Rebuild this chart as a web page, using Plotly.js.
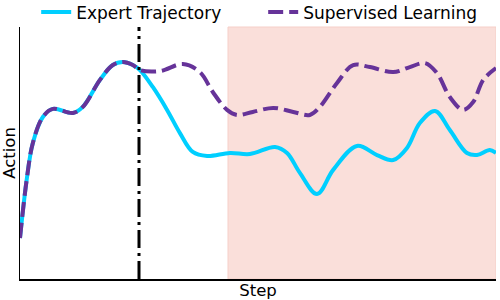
<!DOCTYPE html>
<html>
<head>
<meta charset="utf-8">
<script src="https://cdn.plot.ly/plotly-3.0.1.min.js"></script>
<style>html,body{margin:0;padding:0;background:#fff;}#chart{width:500px;height:300px;}</style>
</head>
<body>
<div id="chart"></div>
<script>
// Expert trajectory (step, action)
const expertSteps = [0, 1.4, 2.7, 4.8, 6.9, 11.1, 13.2, 16.8, 19.5, 21.6, 23.7, 25.2, 27.9, 30.9, 33.6, 36.3, 39.3, 44.1, 48.3, 53.6, 56.1, 58.8, 62.4, 65.8, 70.8, 75.0, 78.4, 81.3, 84.0, 87.2, 90.3, 93.9, 96.0, 98.7, 100];
const expertActions = [0.163, 0.393, 0.540, 0.643, 0.675, 0.659, 0.683, 0.790, 0.849, 0.861, 0.849, 0.829, 0.762, 0.671, 0.579, 0.504, 0.488, 0.500, 0.496, 0.524, 0.500, 0.421, 0.337, 0.433, 0.528, 0.492, 0.472, 0.520, 0.619, 0.667, 0.591, 0.500, 0.492, 0.512, 0.500];

// Supervised learning (step, action)
const supervisedSteps = [0, 1.4, 2.7, 4.8, 6.9, 11.1, 13.2, 16.8, 19.5, 21.6, 23.7, 25.2, 29.4, 34.2, 37.8, 40.5, 43.5, 45.6, 48.9, 53.2, 57.4, 60.9, 63.0, 66.6, 70.0, 73.5, 78.4, 81.9, 85.1, 87.6, 90.3, 93.1, 95.2, 97.3, 100];
const supervisedActions = [0.163, 0.393, 0.540, 0.643, 0.675, 0.659, 0.683, 0.790, 0.849, 0.861, 0.849, 0.829, 0.825, 0.853, 0.821, 0.742, 0.671, 0.651, 0.663, 0.679, 0.663, 0.651, 0.683, 0.778, 0.849, 0.841, 0.821, 0.841, 0.857, 0.817, 0.722, 0.671, 0.702, 0.790, 0.837];

const switchStep = 25.0;
const regionStart = 43.7;
const regionEnd = 100;

const traces = [
  {x: expertSteps, y: expertActions, name: 'Expert Trajectory', mode: 'lines',
   line: {color: '#00CFFF', width: 4, shape: 'spline', smoothing: 1}},
  {x: supervisedSteps, y: supervisedActions, name: 'Supervised Learning', mode: 'lines',
   line: {color: '#663399', width: 4, dash: '15px,6px', shape: 'spline', smoothing: 1}}
];

const layout = {
  width: 500, height: 300,
  margin: {l: 20, r: 4, t: 27, b: 21, pad: 0, autoexpand: false},
  paper_bgcolor: '#fff', plot_bgcolor: '#fff',
  font: {family: 'DejaVu Sans', size: 16, color: '#000'},
  showlegend: true,
  legend: {orientation: 'h', x: 0.034, xanchor: 'left', y: 0.986, yanchor: 'bottom',
           entrywidth: 182, entrywidthmode: 'pixels',
           font: {size: 17}, bgcolor: 'rgba(0,0,0,0)', traceorder: 'normal'},
  xaxis: {range: [0, 100], showgrid: false, zeroline: false, showticklabels: false, ticks: '',
          showline: true, linecolor: '#000', linewidth: 1.5,
          title: {text: 'Step', font: {size: 16.5}, standoff: 6}},
  yaxis: {range: [0, 1], showgrid: false, zeroline: false, showticklabels: false, ticks: '',
          showline: true, linecolor: '#000', linewidth: 1.5,
          title: {text: 'Action', font: {size: 16.5}, standoff: 4}},
  shapes: [
    {type: 'rect', xref: 'x', yref: 'paper', x0: regionStart, x1: regionEnd, y0: 0, y1: 1,
     fillcolor: '#FADFDA', line: {color: '#F5CFC8', width: 1}, layer: 'below'},
    {type: 'line', xref: 'x', yref: 'paper', x0: switchStep, x1: switchStep, y0: 0, y1: 1,
     line: {color: '#000', width: 3, dash: '18px,5px,3px,5px'}, layer: 'above'}
  ]
};

Plotly.newPlot('chart', traces, layout, {displayModeBar: false, staticPlot: true});
</script>
</body>
</html>
